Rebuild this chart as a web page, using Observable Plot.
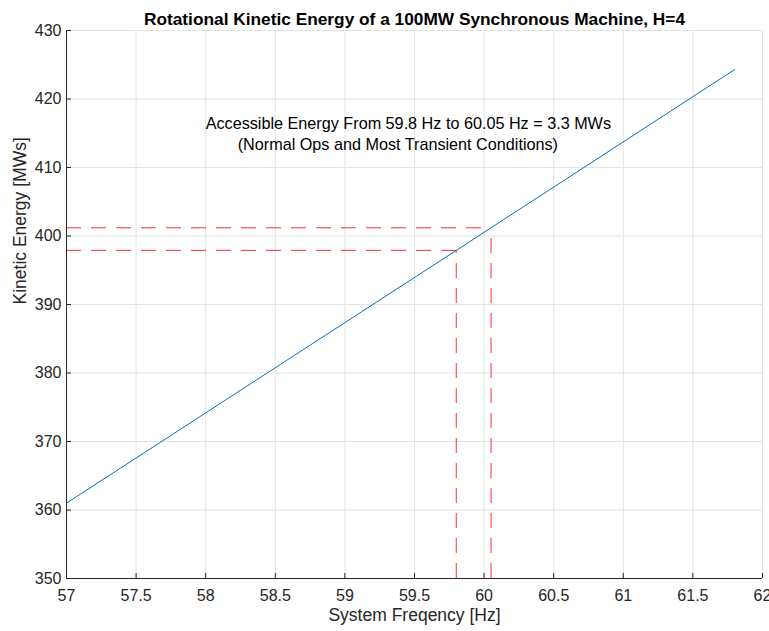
<!DOCTYPE html>
<html><head><meta charset="utf-8">
<script src="https://cdn.jsdelivr.net/npm/d3@7"></script>
<script src="https://cdn.jsdelivr.net/npm/@observablehq/plot@0.6"></script>
<style>body{margin:0;background:#fff}</style>
</head><body><div id="chart"></div>
<script>
const titleText = "Rotational Kinetic Energy of a 100MW Synchronous Machine, H=4";
const xLabel = "System Freqency [Hz]";
const yLabel = "Kinetic Energy [MWs]";
const noteLines = ["Accessible Energy From 59.8 Hz to 60.05 Hz = 3.3 MWs", "(Normal Ops and Most Transient Conditions)"];
const noteX = [58.0, 58.23];
const noteY = [416.4, 413.3];

const freq = [57, 59.8, 60.05, 61.8];
const energy = [361.0, 397.9, 401.2, 424.3];

const markerFreq = [59.8, 60.05];
const markerEnergy = [397.9, 401.2];

const xDomain = [57, 62];
const yDomain = [350, 430];
const xTicks = [57, 57.5, 58, 58.5, 59, 59.5, 60, 60.5, 61, 61.5, 62];
const yTicks = [350, 360, 370, 380, 390, 400, 410, 420, 430];

const rows = freq.map((f, i) => ({f, e: energy[i]}));
const markers = markerFreq.map((f, i) => ({f, e: markerEnergy[i]}));
const notes = noteLines.map((t, i) => ({t, x: noteX[i], y: noteY[i]}));

const axisColor = "#262626";
const gridColor = "#e3e3e3";
const dashColor = "#ff3030";

const chart = Plot.plot({
  width: 769, height: 631,
  marginTop: 30, marginLeft: 66, marginRight: 7, marginBottom: 53,
  style: {fontFamily: "'Liberation Sans', Arial, Helvetica, sans-serif", fontSize: "16px", color: axisColor, background: "#fff"},
  x: {domain: xDomain},
  y: {domain: yDomain},
  marks: [
    Plot.gridX(xTicks, {stroke: gridColor, strokeOpacity: 1}),
    Plot.gridY(yTicks, {stroke: gridColor, strokeOpacity: 1}),
    Plot.ruleY(markers, {y: "e", x1: () => xDomain[0], x2: "f", stroke: dashColor, strokeWidth: 1, strokeDasharray: "15,10"}),
    Plot.ruleX(markers, {x: "f", y1: () => yDomain[0], y2: "e", stroke: dashColor, strokeWidth: 1, strokeDasharray: "15,10"}),
    Plot.line(rows, {x: "f", y: "e", stroke: "#0072BD", strokeWidth: 1}),
    Plot.ruleX([xDomain[0]], {stroke: axisColor, strokeWidth: 1}),
    Plot.ruleY([yDomain[0]], {stroke: axisColor, strokeWidth: 1}),
    Plot.axisX(xTicks, {anchor: "bottom", tickSize: -5, text: null, stroke: axisColor, label: null}),
    Plot.axisX(xTicks, {anchor: "bottom", tickSize: 0, tickPadding: 11, fontSize: 16, fill: axisColor, label: null, tickFormat: d => String(d)}),
    Plot.axisY(yTicks, {anchor: "left", tickSize: -5, text: null, stroke: axisColor, label: null}),
    Plot.axisY(yTicks, {anchor: "left", tickSize: 0, tickPadding: 5, fontSize: 16, fill: axisColor, label: null, tickFormat: d => String(d)}),
    Plot.text(notes, {x: "x", y: "y", text: "t", textAnchor: "start", fontSize: 16.2, fill: "#000"}),
    Plot.text([titleText], {frameAnchor: "top", dy: -18, fontWeight: "bold", fontSize: 17.3, fill: "#000"}),
    Plot.text([xLabel], {frameAnchor: "bottom", dy: 42, fontSize: 17.5, fill: axisColor}),
    Plot.text([yLabel], {frameAnchor: "left", dx: -46, rotate: -90, fontSize: 17.5, fill: axisColor})
  ]
});
document.getElementById("chart").append(chart);
</script>
</body></html>
